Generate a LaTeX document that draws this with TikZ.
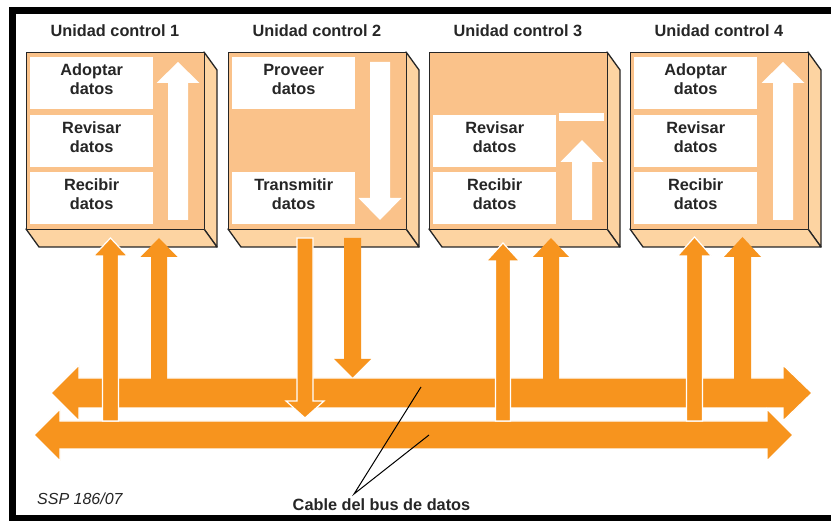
\documentclass[tikz,border=0pt]{standalone}
\usepackage{fontspec}
\setmainfont{Liberation Sans}
\definecolor{peach}{HTML}{FAC28A}
\definecolor{peachlt}{HTML}{FDD4A2}
\definecolor{busorange}{HTML}{F7941E}
\definecolor{ink}{HTML}{262626}
\tikzset{
  frontface/.style={fill=peach, draw=ink, line width=1.3pt, line join=round, inner sep=0pt,
    minimum width=178pt, minimum height=177pt, anchor=north west},
  sideface/.style={fill=peachlt, draw=ink, line width=1.3pt, line join=round},
  cell/.style={fill=white, draw=none, minimum width=123pt, minimum height=52pt, inner sep=0pt, anchor=north west},
  lbl/.style={font=\fontsize{16.3}{19}\selectfont\bfseries, text=ink, align=center, inner sep=0pt},
  ttl/.style={font=\fontsize{16.3}{19}\selectfont\bfseries, text=ink, inner sep=0pt},
  outlined/.style={fill=busorange, draw=white, line width=1.2pt, line join=miter},
  plainorange/.style={fill=busorange, draw=none},
  whitearrow/.style={fill=white, draw=none},
  leader/.style={draw=black, line width=1pt},
}
% vertical arrow: style, cx, tail y, head base y, tip y, shaft half width, head half width
\newcommand\varrow[7]{%
  \path[#1] (#2-#6,#3) -- (#2-#6,#4) -- (#2-#7,#4) -- (#2,#5) -- (#2+#7,#4) -- (#2+#6,#4) -- (#2+#6,#3) -- cycle;}
% double horizontal arrow: left tip x, left base x, right base x, right tip x, centre y, head half height, bar top, bar bottom
\newcommand\hbus[8]{%
  \path[outlined] (#1,#5) -- (#2,#5-#6) -- (#2,#7) -- (#3,#7) -- (#3,#5-#6) -- (#4,#5)
    -- (#3,#5+#6) -- (#3,#8) -- (#2,#8) -- (#2,#5+#6) -- cycle;}
% control unit box: left x, name
\newcommand\cubox[2]{%
  \path[sideface] (#1+178,52) -- (#1+191,70) -- (#1+191,247) -- (#1+178,229) -- cycle;
  \path[sideface] (#1,229) -- (#1+178,229) -- (#1+191,247) -- (#1+13,247) -- cycle;
  \node[frontface] (#2) at (#1,52) {};
  \node[ttl] (#2t) at (#1+89,31) {Unidad control #2n};}
\begin{document}
\begin{tikzpicture}[x=1pt,y=-1pt]
\useasboundingbox (0,0) rectangle (831,521);
\fill[white] (0,0) rectangle (831,521);
\draw[line width=7pt] (12.5,11) rectangle (860,518.5);

% ---- unit 1
\path[sideface] (26+178,52) -- (26+191,70) -- (26+191,247) -- (26+178,229) -- cycle;
\path[sideface] (26,229) -- (26+178,229) -- (26+191,247) -- (26+13,247) -- cycle;
\node[frontface] (u1) at (26,52) {};
\node[ttl] (u1t) at (26+89,31) {Unidad control 1};
\node[cell] (c11) at (30,57) {};
\node[cell] (c12) at (30,115) {};
\node[cell] (c13) at (30,172) {};
\node[lbl] (t11) at ([yshift=4pt]c11.center) {Adoptar\\datos};
\node[lbl] (t12) at ([yshift=4pt]c12.center) {Revisar\\datos};
\node[lbl] (t13) at ([yshift=4pt]c13.center) {Recibir\\datos};
\varrow{whitearrow}{178}{220}{83}{62}{10}{21.5}

% ---- unit 2
\path[sideface] (228+178,52) -- (228+191,70) -- (228+191,247) -- (228+178,229) -- cycle;
\path[sideface] (228,229) -- (228+178,229) -- (228+191,247) -- (228+13,247) -- cycle;
\node[frontface] (u2) at (228,52) {};
\node[ttl] (u2t) at (228+89,31) {Unidad control 2};
\node[cell] (c21) at (232,57) {};
\node[cell] (c23) at (232,172) {};
\node[lbl] (t21) at ([yshift=4pt]c21.center) {Proveer\\datos};
\node[lbl] (t23) at ([yshift=4pt]c23.center) {Transmitir\\datos};
\varrow{whitearrow}{380}{62}{198}{220}{10}{21.5}

% ---- unit 3
\path[sideface] (429+178,52) -- (429+191,70) -- (429+191,247) -- (429+178,229) -- cycle;
\path[sideface] (429,229) -- (429+178,229) -- (429+191,247) -- (429+13,247) -- cycle;
\node[frontface] (u3) at (429,52) {};
\node[ttl] (u3t) at (429+89,31) {Unidad control 3};
\node[cell] (c32) at (433,115) {};
\node[cell] (c33) at (433,172) {};
\node[lbl] (t32) at ([yshift=4pt]c32.center) {Revisar\\datos};
\node[lbl] (t33) at ([yshift=4pt]c33.center) {Recibir\\datos};
\fill[white] (429+130,113) rectangle (429+175,121);
\varrow{whitearrow}{582}{220}{162}{140}{10}{21.5}

% ---- unit 4
\path[sideface] (630+178,52) -- (630+191,70) -- (630+191,247) -- (630+178,229) -- cycle;
\path[sideface] (630,229) -- (630+178,229) -- (630+191,247) -- (630+13,247) -- cycle;
\node[frontface] (u4) at (630,52) {};
\node[ttl] (u4t) at (630+89,31) {Unidad control 4};
\node[cell] (c41) at (634,57) {};
\node[cell] (c42) at (634,115) {};
\node[cell] (c43) at (634,172) {};
\node[lbl] (t41) at ([yshift=4pt]c41.center) {Adoptar\\datos};
\node[lbl] (t42) at ([yshift=4pt]c42.center) {Revisar\\datos};
\node[lbl] (t43) at ([yshift=4pt]c43.center) {Recibir\\datos};
\varrow{whitearrow}{783}{220}{83}{62}{10}{21.5}

% ---- data bus
\hbus{51}{79}{783}{812}{393}{28}{378}{408}
\hbus{34}{60}{767}{793}{435}{26}{421}{449}

% ---- arrows merging into the upper bus
\varrow{plainorange}{159}{386}{257}{238}{8}{18.5}
\varrow{plainorange}{352.5}{238}{359}{377.5}{8.5}{18.5}
\varrow{plainorange}{551}{386}{257}{238}{8}{18}
\varrow{plainorange}{742.5}{386}{257}{237}{8.5}{18.5}

% ---- arrows crossing the upper bus
\varrow{outlined}{110.5}{421}{256}{238}{8}{17}
\varrow{outlined}{305}{238}{401}{418}{8}{19}
\varrow{outlined}{503}{421}{261}{243}{7.5}{16.5}
\varrow{outlined}{694.5}{421}{256}{237}{8}{17}

% ---- labels
\node[ttl, font=\fontsize{16.3}{19}\selectfont\bfseries] (cable) at (381.5,504.5) {Cable del bus de datos};
\node[inner sep=0pt, text=ink, font=\fontsize{16}{19}\selectfont\itshape, anchor=west] (ssp) at (37,499) {SSP 186/07};
\coordinate (lp) at (354,494);
\coordinate (le1) at (421,387);
\coordinate (le2) at (429,435);
\draw[leader] (le1) -- (lp) -- (le2);
\end{tikzpicture}
\end{document}
